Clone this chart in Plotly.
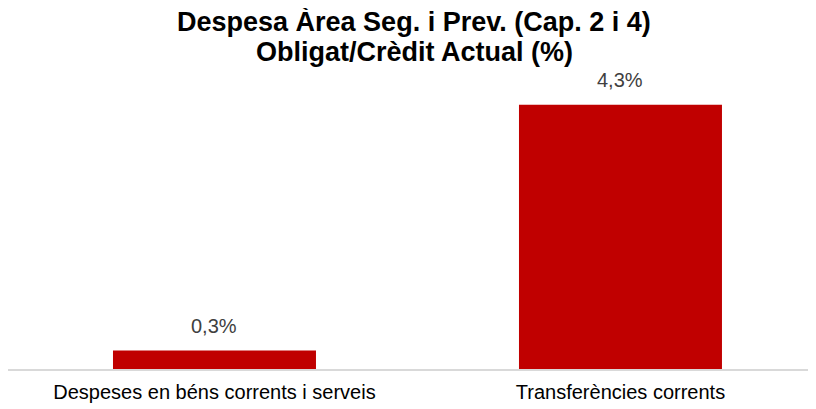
import plotly.graph_objects as go

categories = ["Despeses en béns corrents i serveis", "Transferències corrents"]
values = [0.3, 4.3]
title_lines = ["Despesa Àrea Seg. i Prev. (Cap. 2 i 4)", "Obligat/Crèdit Actual (%)"]

FONT = "Liberation Sans, Arial"

fig = go.Figure(go.Bar(
    x=[0, 1], y=values,
    width=0.5,
    marker=dict(color="#c00000", line=dict(width=0)),
    hoverinfo="skip",
))

annotations = []
for i, v in enumerate(values):
    annotations.append(dict(
        x=i, y=v, xref="x", yref="y",
        text=f"{v:.1f}%".replace(".", ","),
        showarrow=False, yanchor="bottom", yshift=12,
        font=dict(family=FONT, size=20, color="#404040"),
    ))
for txt, yp in zip(title_lines, [1.123, 1.026]):
    annotations.append(dict(
        x=0.498, y=yp, xref="paper", yref="paper",
        text="<b>" + txt + "</b>", showarrow=False,
        xanchor="center", yanchor="middle",
        font=dict(family=FONT, size=27, color="#000000"),
    ))

fig.update_layout(
    width=816, height=409,
    margin=dict(l=0, r=0, t=52, b=48),
    paper_bgcolor="white", plot_bgcolor="white",
    separators=",.",
    showlegend=False,
    annotations=annotations,
    xaxis=dict(
        range=[-0.5086, 1.5013],
        tickmode="array", tickvals=[0, 1], ticktext=categories,
        showgrid=False, zeroline=False,
        showline=True, linecolor="#d9d9d9", linewidth=2,
        ticks="outside", ticklen=4, tickcolor="rgba(0,0,0,0)",
        tickfont=dict(family=FONT, size=20, color="#000000"),
    ),
    yaxis=dict(range=[0, 5.03], visible=False, showgrid=False, zeroline=False),
)

fig.write_html("out.html")
